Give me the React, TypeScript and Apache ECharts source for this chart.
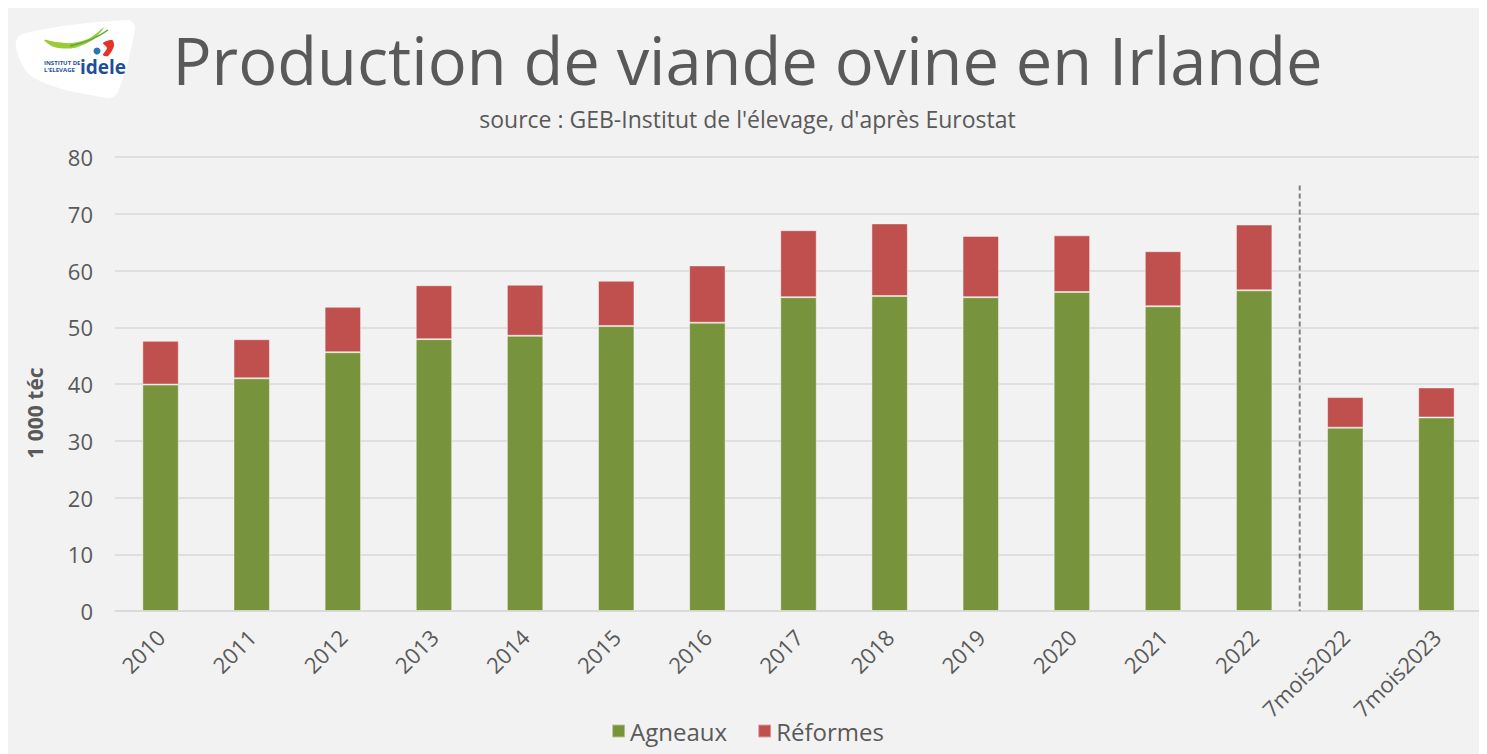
import React, { useEffect, useRef } from "react";
import * as echarts from "echarts";

const categories = ["2010","2011","2012","2013","2014","2015","2016","2017","2018","2019","2020","2021","2022","7mois2022","7mois2023"];
const agneaux = [39.9, 41.0, 45.6, 47.9, 48.5, 50.2, 50.8, 55.3, 55.5, 55.3, 56.2, 53.7, 56.5, 32.3, 34.1];
const reformes = [7.7, 6.9, 8.0, 9.5, 9.0, 8.0, 10.1, 11.8, 12.8, 10.8, 10.0, 9.7, 11.6, 5.4, 5.3];
const seriesNames = ["Agneaux", "Réformes"];
const yTicks = { min: 0, max: 80, interval: 10 };
const separatorTop = 75;

const FONT = "'Open Sans', 'DejaVu Sans', sans-serif";
const GREY = "#595959";

function baseGraphics(): any[] {
  return [
    {
      id: "logoBg", type: "polygon", z: 10,
      shape: { points: [[8, 40], [14, 26], [120, 12], [127, 20], [110, 84], [100, 90], [26, 70]], smooth: 0.35 },
      style: { fill: "#ffffff" },
    },
    {
      id: "swoosh", type: "polygon", z: 11,
      shape: { points: [[36, 32], [46, 39], [66, 40], [86, 31], [96, 19], [82, 30], [64, 35], [48, 34]], smooth: 0.3 },
      style: { fill: "#9BCB3B" },
    },
    {
      id: "swoosh2", type: "bezierCurve", z: 12,
      shape: { x1: 62, y1: 38, x2: 100, y2: 22, cpx1: 80, cpy1: 34, cpx2: 92, cpy2: 28 },
      style: { stroke: "#5DA83A", lineWidth: 1.5, fill: null },
    },
    {
      id: "red", type: "polygon", z: 12,
      shape: { points: [[95, 35], [104, 32], [106, 38], [100, 48], [95, 47], [99, 40]], smooth: 0.3 },
      style: { fill: "#E63329" },
    },
    {
      id: "drop", type: "circle", z: 12,
      shape: { cx: 89, cy: 43, r: 3.5 },
      style: { fill: "#2E74B5" },
    },
    {
      id: "logoT1", type: "text", z: 12, x: 36, y: 52,
      style: { text: "INSTITUT DE", fill: "#1F4E9A", font: "bold 6px " + FONT },
    },
    {
      id: "logoT2", type: "text", z: 12, x: 36, y: 59,
      style: { text: "L'ELEVAGE", fill: "#1F4E9A", font: "bold 6px " + FONT },
    },
    {
      id: "logoT3", type: "text", z: 12, x: 72, y: 49,
      style: { text: "idele", fill: "#1F4E9A", font: "bold 19px " + FONT },
    },
    {
      id: "yname", type: "text", z: 12, x: 27, y: 405, rotation: Math.PI / 2,
      style: { text: "1 000 téc", fill: GREY, font: "bold 21px " + FONT, align: "center", verticalAlign: "middle" },
    },
  ];
}

export default function App() {
  const ref = useRef<HTMLDivElement>(null);
  useEffect(() => {
    if (!ref.current) return;
    const chart = echarts.init(ref.current, undefined, { renderer: "svg" });
    const option: any = {
      animation: false,
      backgroundColor: "#F2F2F2",
      title: [
        {
          text: "Production de viande ovine en Irlande",
          left: "center",
          top: 14,
          textStyle: { fontFamily: FONT, fontSize: 65, fontWeight: "normal", color: GREY },
        },
        {
          text: "source : GEB-Institut de l'élevage, d'après Eurostat",
          left: "center",
          top: 94,
          textStyle: { fontFamily: FONT, fontSize: 23, fontWeight: "normal", color: GREY },
        },
      ],
      legend: {
        bottom: 6,
        left: "center",
        itemWidth: 13,
        itemHeight: 13,
        itemGap: 30,
        icon: "rect",
        textStyle: { fontFamily: FONT, fontSize: 24, color: GREY },
        data: seriesNames,
      },
      grid: { left: 107, right: 5, top: 149, bottom: 143, containLabel: false },
      xAxis: {
        type: "category",
        data: categories,
        axisTick: { show: false },
        axisLine: { lineStyle: { color: "#D9D9D9", width: 1.5 } },
        axisLabel: { interval: 0, rotate: 45, fontFamily: FONT, fontSize: 22, color: GREY, margin: 22 },
      },
      yAxis: {
        type: "value",
        min: yTicks.min,
        max: yTicks.max,
        interval: yTicks.interval,
        axisLine: { show: false },
        axisTick: { show: false },
        splitLine: { lineStyle: { color: "#D9D9D9", width: 1.5 } },
        axisLabel: { fontFamily: FONT, fontSize: 22, color: GREY, margin: 22 },
      },
      series: [
        {
          name: seriesNames[0],
          type: "bar",
          stack: "total",
          data: agneaux,
          barWidth: "40%",
          itemStyle: { color: "#77933C", borderColor: "rgba(255,255,255,0.45)", borderWidth: 1 },
        },
        {
          name: seriesNames[1],
          type: "bar",
          stack: "total",
          data: reformes,
          barWidth: "40%",
          itemStyle: { color: "#C0504D", borderColor: "rgba(255,255,255,0.45)", borderWidth: 1 },
        },
      ],
      graphic: baseGraphics(),
    };
    chart.setOption(option);
    const xa = chart.convertToPixel({ xAxisIndex: 0 }, 12) as number;
    const xb = chart.convertToPixel({ xAxisIndex: 0 }, 13) as number;
    const yTop = chart.convertToPixel({ yAxisIndex: 0 }, separatorTop) as number;
    const yBot = chart.convertToPixel({ yAxisIndex: 0 }, 0) as number;
    const xm = (xa + xb) / 2;
    chart.setOption({
      graphic: [
        ...baseGraphics(),
        {
          id: "sep", type: "line", z: 5,
          shape: { x1: xm, y1: yTop, x2: xm, y2: yBot },
          style: { stroke: "#7F7F7F", lineWidth: 2, lineDash: [5, 3] },
        },
      ],
    });
    return () => chart.dispose();
  }, []);
  return <div ref={ref} style={{ width: 1479, height: 746 }} />;
}
